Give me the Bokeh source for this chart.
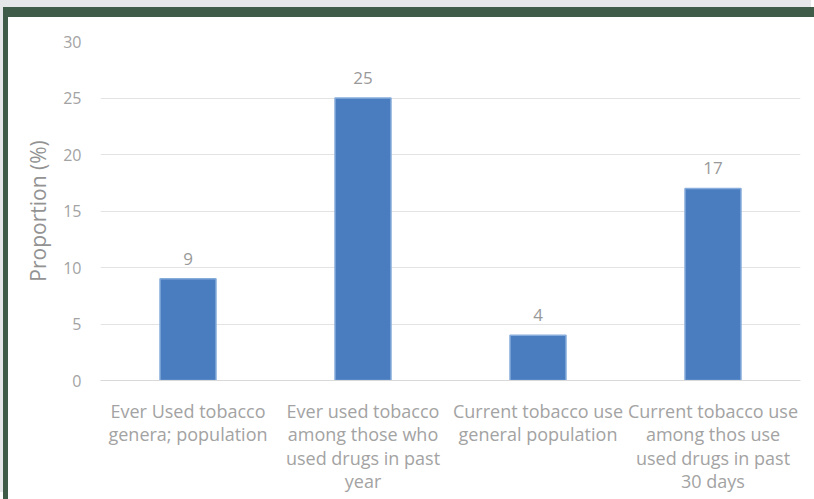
from bokeh.plotting import figure
from bokeh.models import ColumnDataSource, LabelSet
from bokeh.core.properties import value
from bokeh.embed import file_html
from bokeh.resources import INLINE

categories = [
    "Ever Used tobacco\ngenera; population",
    "Ever used tobacco\namong those who\nused drugs in past\nyear",
    "Current tobacco use\ngeneral population",
    "Current tobacco use\namong thos use\nused drugs in past\n30 days",
]
values = [9, 25, 4, 17]
value_labels = [str(v) for v in values]
y_ticks = [0, 5, 10, 15, 20, 25, 30]

FONT = "Open Sans"
GREY = "#a3a3a3"
GREEN = "#3e5c47"

src = ColumnDataSource(dict(cat=categories, val=values, lab=value_labels))

p = figure(
    x_range=categories, y_range=(0, 30),
    width=811, height=492,
    output_backend="svg", toolbar_location=None,
    min_border_left=92, min_border_right=19, min_border_top=24, min_border_bottom=129,
)
p.styles = {
    "margin-top": "7px", "margin-left": "3px",
    "border-top": f"10px solid {GREEN}", "border-left": f"5px solid {GREEN}",
    "box-shadow": "-3px -7px 0 0 #e6e7e8",
}

p.vbar(x="cat", top="val", width=0.32, source=src,
       fill_color="#4a7dbf", line_color="#86acdb", line_width=1.5)

labels = LabelSet(x="cat", y="val", text="lab", source=src,
                  text_align="center", text_baseline="bottom", y_offset=14,
                  text_font=value(FONT), text_font_size=value("17px"),
                  text_color="#999999")
p.add_layout(labels)

p.outline_line_color = None
p.xgrid.grid_line_color = None
p.ygrid.grid_line_color = "#e3e3e3"
p.ygrid.grid_line_width = 1

p.yaxis.ticker = y_ticks
p.yaxis.axis_line_color = None
p.yaxis.major_tick_line_color = None
p.yaxis.minor_tick_line_color = None
p.yaxis.major_label_text_font = FONT
p.yaxis.major_label_text_font_size = "16px"
p.yaxis.major_label_text_color = GREY
p.yaxis.major_label_standoff = 13
p.yaxis.axis_label = "Proportion (%)"
p.yaxis.axis_label_text_font = FONT
p.yaxis.axis_label_text_font_size = "21px"
p.yaxis.axis_label_text_font_style = "normal"
p.yaxis.axis_label_text_color = "#939393"
p.yaxis.axis_label_standoff = 8

p.xaxis.axis_line_color = "#d9d9d9"
p.xaxis.major_tick_line_color = None
p.xaxis.minor_tick_line_color = None
p.xaxis.major_label_text_font = FONT
p.xaxis.major_label_text_font_size = "18px"
p.xaxis.major_label_text_color = GREY
p.xaxis.major_label_standoff = 12
p.xaxis.major_label_text_line_height = 0.98

open("out.html", "w").write(file_html(p, INLINE))
